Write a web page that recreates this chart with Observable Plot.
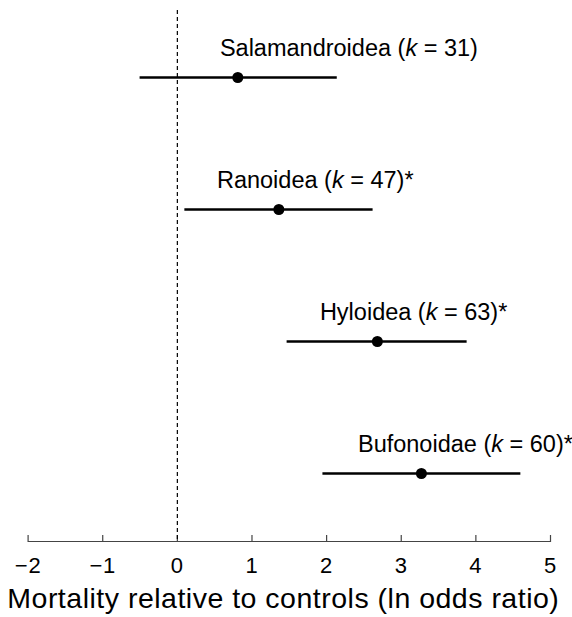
<!DOCTYPE html>
<html><head><meta charset="utf-8">
<script src="https://cdn.jsdelivr.net/npm/d3@7"></script>
<script src="https://cdn.jsdelivr.net/npm/@observablehq/plot@0.6"></script>
<style>body{margin:0;background:#fff} svg{font-family:Arial,"Liberation Sans",sans-serif}</style>
</head><body><div id="chart"></div>
<script>
const groups = ["Salamandroidea", "Ranoidea", "Hyloidea", "Bufonoidae"];
const kValues = [31, 47, 63, 60];
const significant = [false, true, true, true];
const estimate = [0.81, 1.36, 2.68, 3.27];
const lower = [-0.49, 0.11, 1.48, 1.96];
const upper = [2.12, 2.60, 3.86, 4.58];
const labelX = [0.57, 0.53, 1.91, 2.42];
const xTicks = [-2, -1, 0, 1, 2, 3, 4, 5];
const xTitle = "Mortality relative to controls (ln odds ratio)";

const data = groups.map((g, i) => ({group: g, k: kValues[i], sig: significant[i], est: estimate[i], lo: lower[i], hi: upper[i], lx: labelX[i]}));
const labelText = d => `${d.group} (k = ${d.k})${d.sig ? "*" : ""}`;

const W = 572, H = 617, mt = 10, mb = 76;
const plot = Plot.plot({
  width: W, height: H,
  marginLeft: 27.6, marginRight: 22, marginTop: mt, marginBottom: mb,
  style: {fontFamily: "Arial, 'Liberation Sans', sans-serif", background: "#fff", color: "#000", overflow: "visible"},
  x: {domain: [-2, 5]},
  y: {type: "point", domain: groups, range: [76, 474], padding: 0, axis: null},
  marks: [
    Plot.frame({anchor: "bottom", stroke: "#444", strokeWidth: 1.2}),
    Plot.ruleX(xTicks, {stroke: "#444", strokeWidth: 1.2, insetTop: H - mt - mb - 6}),
    Plot.axisX(xTicks, {tickSize: 0, tickPadding: 16, fontSize: 22, label: null, fill: "#000", tickFormat: d => String(d).replace("-", "\u2212")}),
    Plot.text([xTitle], {frameAnchor: "bottom", dy: 66, dx: -6, fontSize: 28.5, fill: "#000"}),
    Plot.ruleX([0], {stroke: "#000", strokeWidth: 1.2, strokeDasharray: "4,3"}),
    Plot.link(data, {x1: "lo", x2: "hi", y1: "group", y2: "group", stroke: "#000", strokeWidth: 2.4, strokeLinecap: "square"}),
    Plot.dot(data, {x: "est", y: "group", r: 5.5, fill: "#000"}),
    Plot.text(data, {x: "lx", y: "group", text: labelText, textAnchor: "start", dy: -29, fontSize: 23.5, fill: "#000"})
  ]
});

const svg = d3.select(plot);
svg.selectAll("text").each(function() {
  const t = d3.select(this);
  const content = this.textContent;
  if (content === xTitle) { t.attr("letter-spacing", "0.5px"); return; }
  if (/^[\u2212]?\d$/.test(content)) { t.attr("letter-spacing", "0.8px"); return; }
  const d = data.find(d => labelText(d) === content);
  if (!d) return;
  t.text(null);
  t.append("tspan").text(`${d.group} (`);
  t.append("tspan").attr("font-style", "italic").text("k");
  t.append("tspan").text(` = ${d.k})${d.sig ? "*" : ""}`);
});

document.getElementById("chart").appendChild(plot);
</script>
</body></html>
